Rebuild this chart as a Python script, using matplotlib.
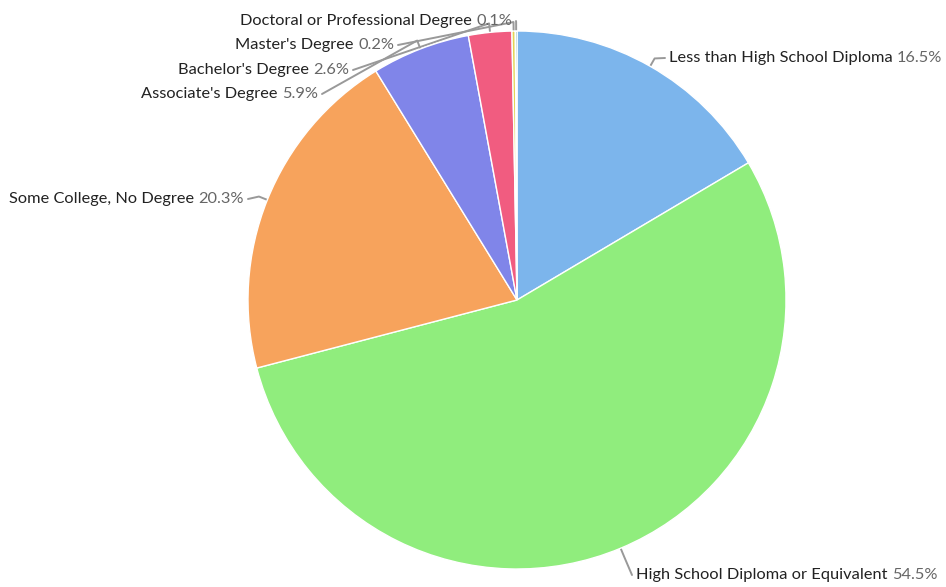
import matplotlib
matplotlib.use("Agg")
import matplotlib.pyplot as plt
import numpy as np

# education attainment shares
categories = ["Less than High School Diploma", "High School Diploma or Equivalent",
              "Some College, No Degree", "Associate's Degree", "Bachelor's Degree",
              "Master's Degree", "Doctoral or Professional Degree"]
shares = [16.5, 54.5, 20.3, 5.9, 2.6, 0.2, 0.1]
colors = ["#7cb5ec", "#90ed7d", "#f7a35c", "#8085e9", "#f15c80", "#e4d354", "#2b908f"]

# label layout (pixels from top-left): side, anchor x, anchor y
label_side = ["right", "right", "left", "left", "left", "left", "left"]
label_x = [669, 636, 244, 318, 349, 394, 512]
label_y = [58, 575, 199, 94, 70, 45, 21]

W, H = 946, 587
CX, CY, R = 517, 300, 269

plt.rcParams['font.family'] = ['Lato', 'DejaVu Sans']

fig = plt.figure(figsize=(W / 100, H / 100), dpi=100)
ax = fig.add_axes([0, 0, 1, 1])

wedges, _ = ax.pie(shares, colors=colors, startangle=90, counterclock=False,
                   center=(CX, H - CY), radius=R,
                   wedgeprops=dict(edgecolor="white", linewidth=1))
ax.set_xlim(0, W)
ax.set_ylim(0, H)
ax.axis("off")

fs = 11.8
for w, name, val, side, lx, ly in zip(wedges, categories, shares, label_side, label_x, label_y):
    mid = np.deg2rad((w.theta1 + w.theta2) / 2)
    ax_, ay_ = CX + R * np.cos(mid), (H - CY) + R * np.sin(mid)
    bx, by = CX + (R + 9) * np.cos(mid), (H - CY) + (R + 9) * np.sin(mid)
    y = H - ly
    pct = f"{val:.1f}%"
    if side == "right":
        t = ax.text(lx, y, name, ha="left", va="center", fontsize=fs, color="#222222")
        ax.annotate(pct, xy=(1, y), xycoords=(t, "data"), xytext=(3, 0),
                    textcoords="offset points", ha="left", va="center",
                    fontsize=fs, color="#666666")
        cx_end = lx - 4
    else:
        t = ax.text(lx, y, pct, ha="right", va="center", fontsize=fs, color="#666666")
        ax.annotate(name, xy=(0, y), xycoords=(t, "data"), xytext=(-3, 0),
                    textcoords="offset points", ha="right", va="center",
                    fontsize=fs, color="#222222")
        cx_end = lx + 4
    ax.plot([ax_, bx, cx_end], [ay_, by, y], color="#999999", lw=1.4,
            solid_capstyle="round", solid_joinstyle="round", zorder=0)

fig.savefig("out.png", dpi=100)
